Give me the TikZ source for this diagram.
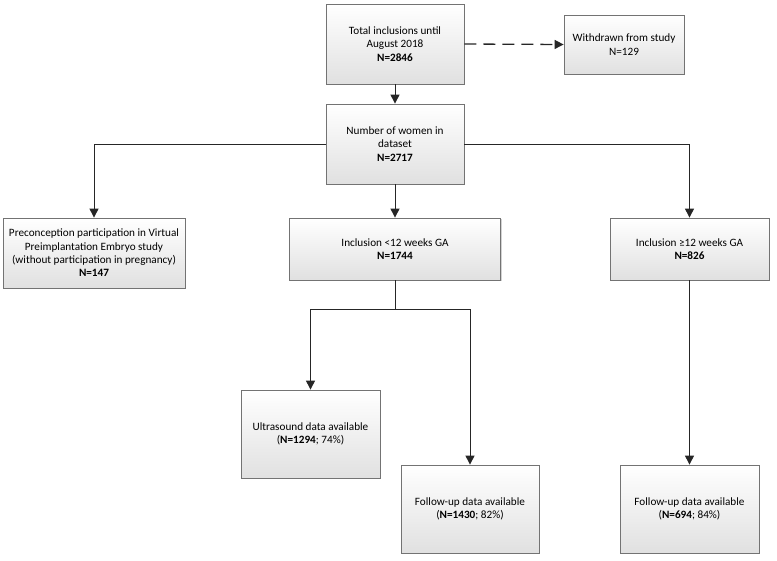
\documentclass[tikz,border=0pt]{standalone}
\usepackage{fontspec}
\setmainfont{Carlito}
\definecolor{boxline}{gray}{.45}
\definecolor{boxshade}{gray}{.88}
\definecolor{flowline}{gray}{.15}
\usetikzlibrary{arrows.meta,shadows}
\tikzstyle{flowbox} = [
 rectangle,
 draw=boxline,
 line width=.8pt,
 top color=white,
 bottom color=boxshade,
 drop shadow={shadow xshift=1.2pt,shadow yshift=-1.2pt,fill=black!35},
 align = center,
 font=\fontsize{11.2}{13.4}\selectfont
]
\tikzstyle{flowarrow} = [
 draw=flowline,
 line width=1pt,
 -{Triangle[length=9pt,width=9pt]}
]

\begin{document}
\begin{tikzpicture}[x=1pt,y=-1pt]
  \useasboundingbox (0,0) rectangle (777,560);

  \node [flowbox, minimum width=138pt, minimum height=80pt] (total) at (395,44)
    {Total inclusions until \\ August 2018 \\ \textbf{N=2846}};
  \node [flowbox, minimum width=120pt, minimum height=59pt] (withdrawn) at (624,44.5)
    {Withdrawn from study \\ N=129};
  \node [flowbox, minimum width=138pt, minimum height=80pt] (women) at (395,144)
    {Number of women in \\ dataset \\ \textbf{N=2717}};
  \node [flowbox, minimum width=182pt, minimum height=70pt] (precon) at (94,253)
    {Preconception participation in Virtual \\ Preimplantation Embryo study \\
     (without participation in pregnancy) \\ \textbf{N=147}};
  \node [flowbox, minimum width=211pt, minimum height=62pt] (early) at (395,249)
    {Inclusion <12 weeks GA \\ \textbf{N=1744}};
  \node [flowbox, minimum width=159pt, minimum height=62pt] (late) at (689.5,249)
    {Inclusion ≥12 weeks GA \\ \textbf{N=826}};
  \node [flowbox, minimum width=139pt, minimum height=88pt] (ultra) at (310.5,434)
    {Ultrasound data available \\ (\textbf{N=1294}; 74\%)};
  \node [flowbox, minimum width=138pt, minimum height=88pt] (fuearly) at (470,509)
    {Follow-up data available \\ (\textbf{N=1430}; 82\%)};
  \node [flowbox, minimum width=139pt, minimum height=88pt] (fulate) at (689.5,509)
    {Follow-up data available \\ (\textbf{N=694}; 84\%)};

  \draw [flowarrow, line width=1.3pt, dash pattern=on 12pt off 7pt] (total.east) -- (withdrawn.west);
  \draw [flowarrow] (total.south) -- (women.north);
  \draw [flowarrow] (women.west) -| (precon.north);
  \draw [flowarrow] (women.south) -- (early.north);
  \draw [flowarrow] (women.east) -| (late.north);
  \draw [draw=flowline, line width=1pt] (early.south) -- (395,309) coordinate (split);
  \draw [flowarrow] (split) -| (ultra.north);
  \draw [flowarrow] (split) -| (fuearly.north);
  \draw [flowarrow] (late.south) -- (fulate.north);
\end{tikzpicture}
\end{document}
